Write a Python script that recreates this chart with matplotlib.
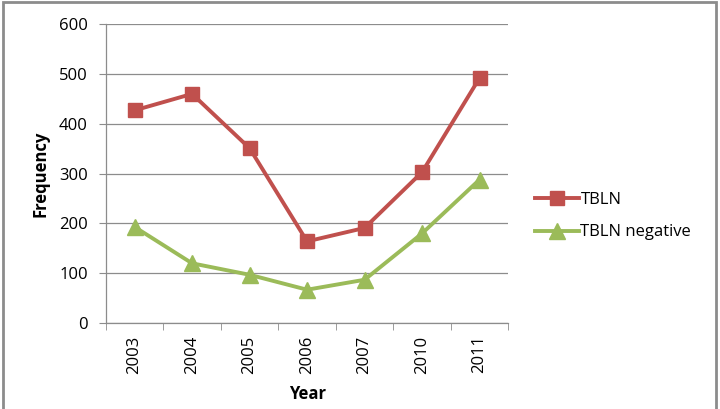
import matplotlib
matplotlib.use("Agg")
import matplotlib.pyplot as plt
from matplotlib.patches import Rectangle

years = ["2003", "2004", "2005", "2006", "2007", "2010", "2011"]
tbln = [427, 460, 351, 164, 191, 303, 492]
tbln_negative = [193, 120, 97, 67, 87, 180, 288]
yticks = [0, 100, 200, 300, 400, 500, 600]

red = "#C0504D"
green = "#9BBB59"
plt.rcParams['font.family'] = ['Open Sans', 'DejaVu Sans']
fs = 12

fig = plt.figure(figsize=(7.2, 4.09), dpi=100)
fig.patches.append(Rectangle((0.004, -0.01), 0.99, 1.005, transform=fig.transFigure,
                             fill=False, edgecolor="#8c8c8c", linewidth=2.0))
ax = fig.add_axes([0.147, 0.210, 0.559, 0.731])
x = list(range(len(years)))
ax.plot(x, tbln, color=red, linewidth=2.8, marker="s", markersize=10.5,
        markerfacecolor=red, markeredgecolor=red, label="TBLN", zorder=3)
ax.plot(x, tbln_negative, color=green, linewidth=2.8, marker="^", markersize=11,
        markerfacecolor=green, markeredgecolor=green, label="TBLN negative", zorder=3)

ax.set_xlim(-0.5, len(years) - 0.5)
ax.set_ylim(0, 600)
ax.set_yticks(yticks)
ax.set_yticklabels([str(v) for v in yticks], fontsize=fs)
ax.yaxis.grid(True, color="#8c8c8c", linewidth=0.9)
ax.set_axisbelow(True)
ax.set_xticks(x)
ax.set_xticklabels(years, rotation=90, fontsize=fs)
ax.set_xticks([i - 0.5 for i in range(len(years) + 1)], minor=True)
ax.tick_params(axis="x", which="major", length=0, pad=9)
ax.tick_params(axis="x", which="minor", length=5, color="#8c8c8c", direction="out")
ax.tick_params(axis="y", length=5, color="#8c8c8c", direction="out", pad=8)
for s in ["top", "right"]:
    ax.spines[s].set_visible(False)
for s in ["left", "bottom"]:
    ax.spines[s].set_color("#8c8c8c")
    ax.spines[s].set_linewidth(0.9)

ax.set_ylabel("Frequency", fontsize=fs, fontweight="bold", labelpad=7)
ax.set_xlabel("Year", fontsize=fs, fontweight="bold", labelpad=8)

ax.legend(loc="center left", bbox_to_anchor=(1.03, 0.358), frameon=False,
          fontsize=fs, handlelength=2.6, handletextpad=0.1, labelspacing=1.0)

fig.savefig("out.png", dpi=100)
